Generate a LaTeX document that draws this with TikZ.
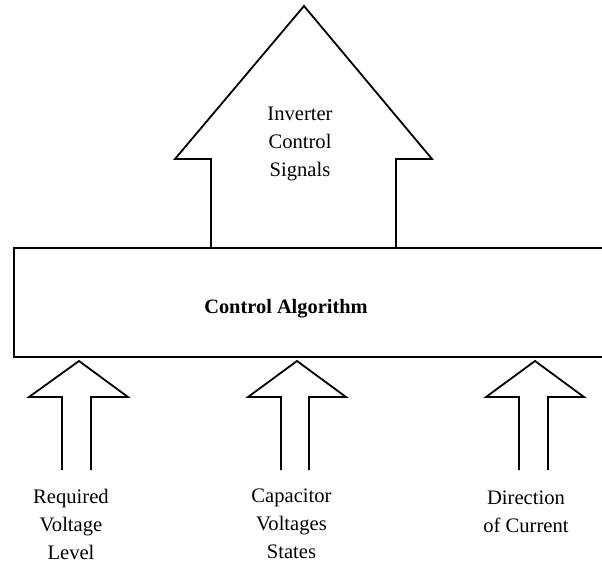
\documentclass[tikz,border=0pt]{standalone}
\usepackage{fontspec}
\setmainfont{Liberation Serif}
\begin{document}
\begin{tikzpicture}[x=1pt,y=-1pt,
  outline/.style={draw=black,line width=1.8pt,line join=miter},
  lbl/.style={align=center,inner sep=0pt,font=\fontsize{20.6}{28}\selectfont}]
\useasboundingbox (0,0) rectangle (602,564);
\clip (0,0) rectangle (602,564);
\fill[white] (0,0) rectangle (602,564);
% big output arrow
\draw[outline] (211,248) -- (211,159) -- (175,159) -- (304,6) -- (432,159) -- (396,159) -- (396,248);
\node[lbl] (out) at (300,144) {Inverter\\Control\\Signals};
% control box
\draw[outline] (612,248) -- (14,248) -- (14,357) -- (612,357);
\node[lbl,font=\fontsize{20.4}{28}\selectfont\bfseries] (alg) at (286,309) {Control Algorithm};
% input arrows
\foreach \l/\sl/\ax/\sr/\r in {29/62/79/91/128, 248/281/297/309/346, 486/519/535/548/584}{
  \draw[outline] (\sl,470) -- (\sl,397) -- (\l,397) -- (\ax,361) -- (\r,397) -- (\sr,397) -- (\sr,470);
}
\node[lbl] (in1) at (71,524) {Required\\Voltage\\Level};
\node[lbl] (in2) at (291.5,524) {Capacitor\\Voltages\\States};
\node[lbl] (in3) at (526,511.5) {Direction\\of Current};
\end{tikzpicture}
\end{document}
